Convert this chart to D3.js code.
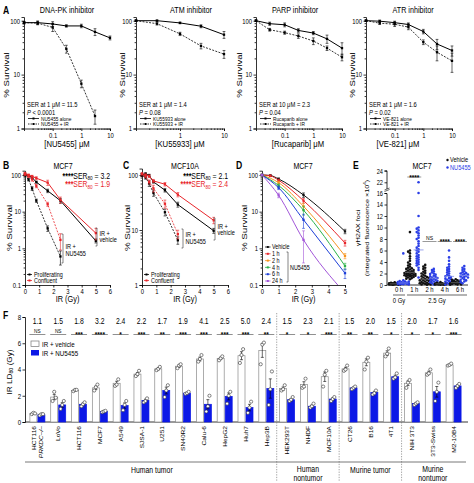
<!DOCTYPE html>
<html><head><meta charset="utf-8">
<script src="https://cdn.jsdelivr.net/npm/d3@7"></script>
<style>body{margin:0;background:#fff}svg{display:block}</style>
</head><body><script>
// ================= DATA =================
// Panel A
const aTitles = ["DNA-PK inhibitor","ATM inhibitor","PARP inhibitor","ATR inhibitor"];
const aDrugs = ["NU5455","KU55933","Rucaparib","VE-821"];
const aSER = ["SER at 1 μM = 11.5","SER at 1 μM = 1.4","SER at 10 μM = 2.3","SER at 1 μM = 1.6"];
const aP = ["< 0.0001","= 0.08","= 0.04","= 0.02"];
const dosesWide = [0.01,0.03,0.1,0.3,1,3,10];
const dosesATM = [0.1,0.3,1,3,10];
const dnapkAlone=[92,92,87,80,80,62,48], dnapkAloneErr=[5,7,9,4,6,9,4];
const dnapkIR=[92,90,75,30,6.8,1.7], dnapkIRErr=[4,6,12,5,1.1,0.5];
const atmAlone=[100,100,91,79,55], atmAloneErr=[3,3,3,5,8];
const atmIR=[100,88,57,34,24], atmIRErr=[3,5,4,4,4];
const parpAlone=[100,88,84,66,59,46,31], parpAloneErr=[3,6,7,5,4,8,8];
const parpIR=[100,68,60,52,42,31,21], parpIRErr=[3,4,4,5,6,3,3];
const atrAlone=[100,98,92,85,63,37,28], atrAloneErr=[3,5,6,6,6,8,6];
const atrIR=[100,90,86,76,40,26,18], atrIRErr=[3,5,8,8,4,8,7];
// Panels B, C
const bcDoses=[0,0.25,0.5,0.8,1.6,2.5,5];
const bProlVeh=[100,95,85,64,37,20,1.6], bProlVehErr=[6,5,5,4,4,3,0.2];
const bConfVeh=[110,100,92,82,62,21,2.6], bConfVehErr=[8,6,6,8,10,4,0.9];
const bProlNU=[100,75,43,20,3.5,0.6], bProlNUErr=[6,6,5,2,0.6,0.25];
const bConfNU=[105,92,76,50,16,1.7], bConfNUErr=[8,6,8,5,2,0.8];
const cProlVeh=[100,105,98,75,53,29,9.7], cProlVehErr=[6,5,5,4,4,3,1];
const cConfVeh=[100,100,95,78,68,44,15], cConfVehErr=[6,5,5,5,5,4,2];
const cProlNU=[100,90,70,47,21,6.5], cProlNUErr=[6,6,8,6,3,1];
const cConfNU=[105,95,75,57,30,8.4], cConfNUErr=[6,6,6,8,5,1.5];
// Panel D
const dDoses=[0,0.5,1,2.5,5];
const dLabels=["Vehicle","1 h","2 h","4 h","6 h","24 h"];
const dVals=[[100,97,78,28.5,2.9],[100,95,72,20,1.4],[100,null,62,14,0.62],[100,null,52,11,0.33],[100,null,45,6,0.21],[100,null,28,1.7,null]];
const dErr=[[4,4,5,4,0.4],[4,5,5,3,0.25],[4,0,5,3,0.1],[4,0,5,3,0.06],[4,0,5,2.5,0.06],[4,0,4,1.3,0]];
const dFit5=[2.9,1.4,0.62,0.33,0.21,0.06];
// Panel E
const eGroups=["0 h","1 h","2 h","4 h","6 h"];
const e0v=[0.05,0.1,0.1,0.15,0.2,0.2,0.25,0.3,0.3,0.35,0.4,0.05,0.1,0.15,0.2,0.25,0.1,0.3,0.45,0.2];
const e0n=[0.1,0.2,0.3,0.4,0.5,0.6,0.2,0.3,0.1,0.7,0.8,0.4,0.5,5.5,0.2,0.3,0.6,0.15];
const e1v=[9.2,6.0,5.8,5.5,5.0,4.6,4.2,3.9,3.6,3.4,3.2,3.0,2.9,2.8,2.7,2.6,2.5,2.4,2.3,2.2,2.2,2.1,2.0,2.0,1.9,1.9,1.8,1.8,1.7,1.7,1.6,1.6,1.5,1.5,1.4,1.3,1.2,1.1,1.0];
const e1n=[22,16,12,10,9.8,9.5,9.2,9.0,8.6,8.2,8.0,7.6,7.2,6.8,6.5,6.2,6.0,5.8,5.5,5.2,5.0,4.8,4.6,4.4,4.2,4.0,3.8,3.6,3.4,3.0,2.6,1.3];
const e2v=[3.5,3.2,3.0,2.8,2.5,2.3,2.1,2.0,1.8,1.6,1.5,1.4,1.3,1.2,1.1,1.0,1.0,0.9,0.8,0.8,0.7,0.6,0.5,0.5,0.4,0.3,0.3,0.2,0.2,0.1,0.1,0.05];
const e2n=[2.8,2.6,2.4,2.2,2.0,1.9,1.8,1.6,1.5,1.4,1.3,1.2,1.1,1.0,0.9,0.8,0.7,0.6,0.5,0.4,0.3,0.2,0.1];
const e4v=[0.5,0.4,0.3,0.25,0.2,0.2,0.15,0.1,0.1,0.05,0.05,0.1,0.15,0.2,0.3];
const e4n=[6.0,4.8,4.2,3.6,3.2,3.0,2.8,2.6,2.4,2.2,2.0,1.8,1.6,1.5,1.4,1.2,1.1,1.0,0.9,0.8,0.7,0.6,0.5,0.4,0.3,0.2,0.1];
const e6v=[1.0,0.9,0.8,0.7,0.6,0.5,0.5,0.4,0.4,0.3,0.3,0.3,0.2,0.2,0.1,0.1,0.05];
const e6n=[3.3,3.0,2.8,2.6,2.4,2.2,2.1,2.0,1.9,1.8,1.7,1.6,1.5,1.4,1.3,1.2,1.0,0.9,0.8,0.6,0.5,0.3];
const eYTicksLow=[0,2,4,6,8,10,12,14,16], eYTicksHigh=[22,24];
const eSig=[null,"****","NS","****","****"];
// Panel F
const fCells=["HCT116|PRKDC–/–","LoVo","HCT116","MCF7","A549","SJSA-1","U251","SN40R2","Calu-6","HepG2","Huh7","Hep3B","HEK293T","NHDF","MCF10A","CT26","B16","4T1","NIH 3T3","3T3-Swiss","M2-10B4"];
const fVeh=[0.65,1.9,2.4,2.6,2.95,3.65,4.05,4.25,4.8,4.85,5.05,5.45,2.55,2.85,3.45,4.05,4.55,5.25,2.95,3.75,4.35];
const fNU=[0.55,1.3,1.35,0.8,1.25,1.65,2.4,2.2,1.35,1.95,1.1,2.55,1.7,1.2,1.75,2.6,2.25,3.45,1.4,2.3,2.75];
const fVehReps=[[0.6,0.7,0.65],[1.6,2.3,1.85],[2.35,2.45,2.45],[2.4,2.65,2.85],[2.75,2.85,3.25],[3.5,3.65,3.9],[3.95,4.05,4.2],[4.1,4.3,4.4],[4.6,4.8,5.1],[4.7,4.85,5.0],[4.5,5.1,5.55],[4.4,5.9,6.05],[2.4,2.5,2.8],[2.6,2.7,3.3],[2.7,3.6,3.9],[3.9,4.0,4.3],[4.0,4.6,4.9],[5.0,5.2,5.6],[2.6,3.0,3.2],[3.6,3.7,4.0],[4.3,4.35,4.45]];
const fNUReps=[[0.5,0.6,0.6],[1.0,1.3,1.6],[1.2,1.35,1.5],[0.75,0.8,0.85],[0.9,1.3,1.6],[1.5,1.6,1.8],[1.9,2.4,2.8],[2.15,2.2,2.3],[0.8,1.2,2.0],[1.4,2.0,2.3],[0.7,1.1,1.55],[1.3,2.5,3.85],[1.6,1.7,1.9],[1.1,1.2,1.4],[1.6,1.75,1.9],[2.5,2.6,2.7],[2.1,2.2,2.4],[3.3,3.4,3.7],[1.3,1.4,1.5],[1.6,2.3,3.0],[2.6,2.75,2.9]];
const fRatio=["1.1","1.5","1.8","3.2","2.4","2.2","1.7","1.9","4.1","2.5","5.0","2.4","1.5","2.3","2.1","1.5","2.0","1.5","2.0","1.7","1.6"];
const fSig=["NS","NS","***","****","*","***","**","***","***","***","***","**","*","*","***","**","**","*","*","*","***"];
const fGroups=[{name:["Human tumor"],from:0,to:11},{name:["Human","nontumor"],from:12,to:14},{name:["Murine tumor"],from:15,to:17},{name:["Murine","nontumor"],from:18,to:20}];
const fYTicks=[0,2,4,6,8];

// ================= DRAWING =================
const FONT="'Liberation Sans', Arial, Helvetica, sans-serif";
const SX=0.82;
const RED="#e8262b", BLUE_E="#2a3ee6", BLUE_F="#0c18e6";
const svg=d3.select("body").append("svg").attr("width",474).attr("height",483).attr("font-family",FONT);

function T(x,y,s,size=7,anchor="start",fill="#000",o={}){
  const t=svg.append("text").attr("x",0).attr("y",0).attr("font-size",size).attr("text-anchor",anchor).attr("fill",fill).text(s)
    .attr("transform",`translate(${x},${y}) scale(${SX},1)`+(o.rot?` rotate(${o.rot})`:""));
  if(o.bold) t.attr("font-weight","bold");
  return t;
}
function axis(gen,tx,ty,fs=7.2){
  const g=svg.append("g").attr("transform",`translate(${tx},${ty})`).call(gen);
  g.attr("font-size",fs).attr("font-family",FONT);
  g.selectAll("path.domain").attr("stroke-width",0.8);
  g.selectAll(".tick line").attr("stroke-width",0.8);
  g.selectAll(".tick text").each(function(){const t=d3.select(this);const xx=+(t.attr("x")||0);t.attr("x",xx/SX).attr("transform",`scale(${SX},1)`);});
  return g;
}
const fmtD=d3.format("d");
function minors(d0,d1){
  const out=[];
  for(let e=Math.floor(Math.log10(d0));e<=Math.ceil(Math.log10(d1));e++)
    for(let m=2;m<10;m++){const v=m*Math.pow(10,e); if(v>d0*1.0001&&v<d1*0.9999) out.push(+v.toPrecision(3));}
  return out;
}
function logScale(v0,y0,v1,y1,vtop){
  const per=(y1-y0)/Math.log10(v1/v0);
  return d3.scaleLog().domain([v0,vtop]).range([y0,y0+per*Math.log10(vtop/v0)]);
}
function marker(x,y,col,s=2.3){
  svg.append("rect").attr("x",x-s/2).attr("y",y-s/2).attr("width",s).attr("height",s).attr("fill",col);
}
function errbar(x,y1,y2,col,w=1.4){
  const g=svg.append("g").attr("stroke",col).attr("stroke-width",0.6);
  g.append("line").attr("x1",x).attr("x2",x).attr("y1",y1).attr("y2",y2);
  g.append("line").attr("x1",x-w).attr("x2",x+w).attr("y1",y1).attr("y2",y1);
  g.append("line").attr("x1",x-w).attr("x2",x+w).attr("y1",y2).attr("y2",y2);
}
function series(x,y,doses,vals,errs,col,dash,lo){
  const pts=doses.map((d,i)=>({d,v:vals[i],e:errs?errs[i]:0})).filter(p=>p.v!=null);
  svg.append("path").datum(pts).attr("fill","none").attr("stroke",col).attr("stroke-width",dash?0.8:1)
    .attr("stroke-dasharray",dash?"2,1.3":null)
    .attr("d",d3.line().x(p=>x(p.d)).y(p=>y(p.v)));
  pts.forEach(p=>{
    if(p.e){ errbar(x(p.d),y(p.v+p.e),y(Math.max(lo,p.v-p.e)),col); }
    marker(x(p.d),y(p.v),col);
  });
}

// ---------- Panel A ----------
const aCfg=[
 {xr:[24,110],xd:[0.01,10],xt:[0.1,1,10],alone:[dosesWide,dnapkAlone,dnapkAloneErr],ir:[dosesWide.slice(0,6),dnapkIR,dnapkIRErr],yt:9,tc:67,xc:67},
 {xr:[136,224],xd:[0.1,10],xt:[1,10],alone:[dosesATM,atmAlone,atmAloneErr],ir:[dosesATM,atmIR,atmIRErr],yt:125,tc:191,xc:180},
 {xr:[256,342],xd:[0.01,10],xt:[0.1,1,10],alone:[dosesWide,parpAlone,parpAloneErr],ir:[dosesWide,parpIR,parpIRErr],yt:242,tc:295,xc:298},
 {xr:[366,452],xd:[0.01,10],xt:[0.1,1,10],alone:[dosesWide,atrAlone,atrAloneErr],ir:[dosesWide,atrIR,atrIRErr],yt:355,tc:413,xc:398}
];
const aY=logScale(1,128.5,100,20.7,117);
aCfg.forEach((c,i)=>{
  const x=d3.scaleLog().domain(c.xd).range(c.xr);
  axis(d3.axisBottom(x).tickValues(c.xt).tickFormat(d=>String(d)).tickSize(2.5).tickPadding(1.5),0,128.5);
  axis(d3.axisBottom(x).tickValues(minors(c.xd[0],c.xd[1])).tickFormat("").tickSize(1.4),0,128.5).select("path.domain").remove();
  axis(d3.axisLeft(aY).tickValues([1,10,100]).tickFormat(d=>String(d)).tickSize(2.5).tickPadding(1.5),c.xr[0],0);
  axis(d3.axisLeft(aY).tickValues(minors(1,117)).tickFormat("").tickSize(1.4),c.xr[0],0).select("path.domain").remove();
  T(c.tc,12.5,aTitles[i],8.8,"middle");
  T(c.xc,147,`[${aDrugs[i]}] μM`,9.4,"middle");
  T(c.yt,75,"% Survival",9.6,"middle","#000",{rot:-90});
  series(x,aY,c.alone[0],c.alone[1],c.alone[2],"#000",false,1);
  series(x,aY,c.ir[0],c.ir[1],c.ir[2],"#000",true,1);
  const x0=c.xr[0]+3;
  T(x0,107.3,aSER[i],7.1);
  const p=T(x0,114.8,"",7.1); p.append("tspan").attr("font-style","italic").text("P"); p.append("tspan").text(" "+aP[i]);
  [[118.5,false,`${aDrugs[i]} alone`],[124,true,`${aDrugs[i]} + IR`]].forEach(([ly,da,lab])=>{
    svg.append("line").attr("x1",x0+1).attr("x2",x0+12).attr("y1",ly).attr("y2",ly).attr("stroke","#000").attr("stroke-width",0.8).attr("stroke-dasharray",da?"1.5,1":null);
    marker(x0+6.5,ly,"#000",2);
    T(x0+14,ly+2,lab,5.8);
  });
});
T(3,13.5,"A",10.5,"start","#000",{bold:true});

// ---------- Panels B, C ----------
function drawBC(c){
  const x=d3.scaleLinear().domain([0,6]).range(c.xr);
  const y=logScale(c.yd0,285,100,175,131);
  axis(d3.axisBottom(x).tickValues([0,1,2,3,4,5,6]).tickFormat(fmtD).tickSize(2.5).tickPadding(1.5),0,285);
  axis(d3.axisLeft(y).tickValues(c.yt).tickFormat(d=>String(d)).tickSize(2.5).tickPadding(1.5),c.xr[0],0);
  axis(d3.axisLeft(y).tickValues(minors(c.yd0,131)).tickFormat("").tickSize(1.4),c.xr[0],0).select("path.domain").remove();
  series(x,y,bcDoses,c.pv[0],c.pv[1],"#000",false,c.yd0);
  series(x,y,bcDoses,c.cv[0],c.cv[1],RED,false,c.yd0);
  series(x,y,bcDoses.slice(0,6),c.pn[0],c.pn[1],"#000",true,c.yd0);
  series(x,y,bcDoses.slice(0,6),c.cn[0],c.cn[1],RED,true,c.yd0);
  T((c.xr[0]+c.xr[1])/2,302,"IR (Gy)",9,"middle");
  T(c.ytx,228,"% Survival",9.8,"middle","#000",{rot:-90});
  T(c.tc,168.5,c.title,8.6,"middle");
  T(c.lx,168.5,c.letter,10.5,"start","#000",{bold:true});
  c.ser.forEach((s,k)=>{
    const t=T(c.xr[1],178.5+k*8.5,"",8.4,"end",k?RED:"#000");
    t.append("tspan").attr("font-weight","bold").text(s[0]);
    t.append("tspan").text("SER");
    t.append("tspan").attr("font-size",5.6).attr("dy",1.8).text("80");
    t.append("tspan").attr("dy",-1.8).text(" = "+s[1]);
  });
  c.br.forEach(b=>{
    svg.append("path").attr("fill","none").attr("stroke","#333").attr("stroke-width",0.6)
      .attr("d",`M${b.x-1.5},${b.y1}H${b.x}V${b.y2}H${b.x-1.5}`);
    T(b.x+2.5,b.t1,"IR +",6.8); T(b.x+2.5,b.t1+6.5,b.lab,6.8);
  });
  [["Proliferating","#000",276.5],["Confluent",RED,282.5]].forEach(([lab,col,ly])=>{
    svg.append("line").attr("x1",c.xr[0]+2).attr("x2",c.xr[0]+7).attr("y1",ly-2).attr("y2",ly-2).attr("stroke",col).attr("stroke-width",0.8);
    marker(c.xr[0]+4.5,ly-2,col,2);
    T(c.xr[0]+9,ly,lab,6.6);
  });
}
drawBC({xr:[25,110],yd0:0.1,yt:[0.1,1,10,100],pv:[bProlVeh,bProlVehErr],cv:[bConfVeh,bConfVehErr],pn:[bProlNU,bProlNUErr],cn:[bConfNU,bConfNUErr],
  ytx:12,tc:63,title:"MCF7",lx:3,letter:"B",ser:[["****","3.2"],["***","1.9"]],
  br:[{x:97,y1:228,y2:246,t1:235.5,lab:"vehicle"},{x:63,y1:234,y2:263,t1:249,lab:"NU5455"}]});
drawBC({xr:[142,228],yd0:1,yt:[1,10,100],pv:[cProlVeh,cProlVehErr],cv:[cConfVeh,cConfVehErr],pn:[cProlNU,cProlNUErr],cn:[cConfNU,cConfNUErr],
  ytx:130,tc:185,title:"MCF10A",lx:123,letter:"C",ser:[["***","2.1"],["****","2.4"]],
  br:[{x:215,y1:218,y2:240,t1:228.5,lab:"vehicle"},{x:183,y1:229,y2:248,t1:237,lab:"NU5455"}]});

// ---------- Panel D ----------
(function(){
  const cols=["#111",RED,"#f7941d","#2bb24a","#1d3fd8","#a256d9"];
  const x=d3.scaleLinear().domain([0,5]).range([262,345]);
  const y=logScale(0.1,285,100,175,131);
  axis(d3.axisBottom(x).tickValues([0,1,2,3,4,5]).tickFormat(fmtD).tickSize(2.5).tickPadding(1.5),0,285);
  axis(d3.axisLeft(y).tickValues([0.1,1,10,100]).tickFormat(d=>String(d)).tickSize(2.5).tickPadding(1.5),262,0);
  axis(d3.axisLeft(y).tickValues(minors(0.1,131)).tickFormat("").tickSize(1.4),262,0).select("path.domain").remove();
  svg.append("clipPath").attr("id","dclip").append("rect").attr("x",262).attr("y",165).attr("width",90).attr("height",120);
  dVals.forEach((vals,i)=>{
    const pts=dDoses.map((d,k)=>({d,v:vals[k]})).filter(p=>p.v!=null);
    if(vals[4]==null) pts.push({d:5,v:dFit5[i]});
    svg.append("path").datum(pts).attr("clip-path","url(#dclip)").attr("fill","none").attr("stroke",cols[i]).attr("stroke-width",1)
      .attr("d",d3.line().x(p=>x(p.d)).y(p=>y(p.v)).curve(d3.curveMonotoneX));
  });
  dVals.forEach((vals,i)=>{
    dDoses.forEach((d,k)=>{
      const v=vals[k]; if(v==null) return;
      if(dErr[i][k]) errbar(x(d),y(v+dErr[i][k]),y(Math.max(0.1,v-dErr[i][k])),cols[i]);
      marker(x(d),y(v),cols[i]);
    });
  });
  T(303.5,302,"IR (Gy)",9,"middle");
  T(247,228,"% Survival",9.8,"middle","#000",{rot:-90});
  T(303,168.5,"MCF7",8.6,"middle");
  T(236,168.5,"D",10.5,"start","#000",{bold:true});
  dLabels.forEach((lab,i)=>{
    const ly=247+i*6.8;
    svg.append("line").attr("x1",265).attr("x2",270.5).attr("y1",ly).attr("y2",ly).attr("stroke",cols[i]).attr("stroke-width",0.8);
    marker(267.8,ly,cols[i],2);
    T(272,ly+2.2,lab,6.6);
  });
  svg.append("path").attr("fill","none").attr("stroke","#333").attr("stroke-width",0.6).attr("d","M286.5,252H288V282H286.5");
  T(290,269.5,"NU5455",6.6);
})();

// ---------- Panel E ----------
(function(){
  const yl=d3.scaleLinear().domain([0,16]).range([285,193]);
  const yu=d3.scaleLinear().domain([22,24]).range([182.3,170.8]);
  const ey=v=>v<=16?yl(v):yu(v);
  const gx=d3.scalePoint().domain(eGroups).range([399,460]);
  const ax1=axis(d3.axisLeft(yl).tickValues(eYTicksLow).tickFormat(fmtD).tickSize(2.5).tickPadding(1.5),387,0,6.9);
  const ax2=axis(d3.axisLeft(yu).tickValues(eYTicksHigh).tickFormat(fmtD).tickSize(2.5).tickPadding(1.5),387,0,6.9);
  ax1.select("path.domain").attr("d","M-2.5,193.5H0V285");
  ax2.select("path.domain").attr("d","M0,189V170.8H-2.5");
  svg.append("path").attr("fill","none").attr("stroke","#000").attr("stroke-width",0.6).attr("d","M384.5,191.5L389.5,189.5M384.5,190L389.5,188");
  svg.append("line").attr("x1",387).attr("x2",468).attr("y1",285).attr("y2",285).attr("stroke","#000").attr("stroke-width",0.8);
  const sets=[[e0v,e0n],[e1v,e1n],[e2v,e2n],[e4v,e4n],[e6v,e6n]];
  function swarm(vals,cx,r,maxW){
    const pts=vals.map(v=>({v,y:ey(v)})).sort((a,b)=>b.v-a.v);
    const placed=[], step=r*1.4;
    pts.forEach(p=>{
      let best=0,bestO=Infinity;
      for(let k=0;k<=2*Math.floor(maxW/step);k++){
        const off=(k%2===0?1:-1)*Math.ceil(k/2)*step;
        let ov=0;
        placed.forEach(q=>{const dx=q.x-(cx+off),dy=q.y-p.y,dd=Math.hypot(dx,dy);if(dd<2*r*0.8)ov+=2*r*0.8-dd;});
        if(ov===0){best=off;bestO=0;break;}
        if(ov<bestO){bestO=ov;best=off;}
      }
      p.x=cx+best; placed.push(p);
    });
    return placed;
  }
  sets.forEach((s,i)=>{
    const cx=gx(eGroups[i]);
    [[s[0],cx-4.3,"#111","#666"],[s[1],cx+4.3,BLUE_E,"#7f8de8"]].forEach(([vals,c,col,mc])=>{
      swarm(vals,c,1.3,5.5).forEach(p=>svg.append("circle").attr("cx",p.x).attr("cy",p.y).attr("r",1.3).attr("fill",col));
      const md=d3.median(vals);
      svg.append("line").attr("x1",c-5).attr("x2",c+5).attr("y1",ey(md)).attr("y2",ey(md)).attr("stroke",mc).attr("stroke-width",0.8);
    });
    T(cx,292,eGroups[i],7.2,"middle");
    if(eSig[i]){
      const ly=i===1?177:241.5;
      svg.append("line").attr("x1",cx-7).attr("x2",cx+7).attr("y1",ly).attr("y2",ly).attr("stroke","#555").attr("stroke-width",0.6);
      if(eSig[i]==="NS") T(cx,ly-1.3,"NS",6.2,"middle");
      else T(cx,ly+2.6,eSig[i],8,"middle","#000",{bold:true});
    }
  });
  svg.append("line").attr("x1",393).attr("x2",405).attr("y1",295).attr("y2",295).attr("stroke","#000").attr("stroke-width",0.6);
  svg.append("line").attr("x1",407).attr("x2",467).attr("y1",295).attr("y2",295).attr("stroke","#000").attr("stroke-width",0.6);
  T(399,302.5,"0 Gy",7.2,"middle"); T(437,302.5,"2.5 Gy",7.2,"middle");
  T(360,228,"γH2AX foci",7.4,"middle","#000",{rot:-90});
  const yt2=T(368.5,228,"(integrated fluorescence ×10",7.2,"middle","#000",{rot:-90});
  yt2.append("tspan").attr("font-size",4.8).attr("dy",-2.6).text("4");
  yt2.append("tspan").attr("dy",2.6).text(")");
  T(422,168.5,"MCF7",8.6,"middle");
  T(353,168.5,"E",10.5,"start","#000",{bold:true});
  svg.append("circle").attr("cx",447.5).attr("cy",160).attr("r",1.2).attr("fill","#111");
  T(450,162.3,"Vehicle",6.9);
  svg.append("circle").attr("cx",447.5).attr("cy",167.5).attr("r",1.2).attr("fill",BLUE_E);
  T(450,169.8,"NU5455",6.9,"start",BLUE_E);
})();

// ---------- Panel F ----------
(function(){
  const y=d3.scaleLinear().domain([0,8]).range([422,317]);
  const x=d3.scaleBand().domain(fCells).range([27,464]);
  const bw=x.bandwidth(), w=7;
  axis(d3.axisLeft(y).tickValues(fYTicks).tickFormat(fmtD).tickSize(2.5).tickPadding(1.5),25,0,7.4);
  svg.append("line").attr("x1",25).attr("x2",468).attr("y1",422).attr("y2",422).attr("stroke","#000").attr("stroke-width",0.8);
  [12,15,18].forEach(i=>{
    svg.append("line").attr("x1",x(fCells[i])).attr("x2",x(fCells[i])).attr("y1",313).attr("y2",481).attr("stroke","#666").attr("stroke-width",0.6).attr("stroke-dasharray","1.3,1.3");
  });
  fCells.forEach((c,i)=>{
    const cx=x(c)+bw/2;
    [[fVeh[i],fVehReps[i],cx-4,"#fff","#8a8a8a"],[fNU[i],fNUReps[i],cx+4,BLUE_F,BLUE_F]].forEach(([m,reps,bx,fill,stroke])=>{
      svg.append("rect").attr("x",bx-w/2).attr("y",y(m)).attr("width",w).attr("height",y(0)-y(m)).attr("fill",fill).attr("stroke",stroke).attr("stroke-width",0.7);
      const sem=d3.deviation(reps)/Math.sqrt(reps.length);
      errbar(bx,y(m+sem),y(m-sem),"#000",1.5);
      reps.forEach((v,k)=>svg.append("circle").attr("cx",bx+(k-1)*1.6).attr("cy",y(v)).attr("r",1.6).attr("fill","#fff").attr("stroke","#333").attr("stroke-width",0.6));
    });
    T(cx,324,fRatio[i],8.3,"middle");
    svg.append("line").attr("x1",cx-8).attr("x2",cx+8).attr("y1",334.5).attr("y2",334.5).attr("stroke","#444").attr("stroke-width",0.6);
    if(fSig[i]==="NS") T(cx,332.6,"NS",5.8,"middle");
    else T(cx,336.6,fSig[i],8,"middle","#000",{bold:true});
    const parts=c.split("|");
    if(parts.length===1){
      T(cx+2.2,426,c,6.6,"end","#000",{rot:-90});
    } else {
      T(cx-1.5,426,parts[0],6.6,"end","#000",{rot:-90});
      T(cx+5.5,426,parts[1],6.6,"end","#000",{rot:-90}).attr("font-style","italic");
    }
  });
  svg.append("line").attr("x1",25).attr("x2",466).attr("y1",462).attr("y2",462).attr("stroke","#555").attr("stroke-width",0.8);
  fGroups.forEach(g=>{
    const cx=(x(fCells[g.from])+x(fCells[g.to])+bw)/2;
    if(g.name.length===1) T(cx,472.5,g.name[0],8.4,"middle");
    else { T(cx,471.5,g.name[0],8.4,"middle"); T(cx,480.5,g.name[1],8.4,"middle"); }
  });
  svg.append("rect").attr("x",31).attr("y",341).attr("width",8).attr("height",5.5).attr("fill","#fff").attr("stroke","#777").attr("stroke-width",0.7);
  T(42,346.5,"IR + vehicle",7.6);
  svg.append("rect").attr("x",31).attr("y",350).attr("width",8).attr("height",5.5).attr("fill",BLUE_F);
  T(42,355.5,"IR + NU5455",7.6);
  const yt=T(12,372,"IR LD",8.2,"middle","#000",{rot:-90});
  yt.append("tspan").attr("font-size",5.4).attr("dy",1.8).text("80");
  yt.append("tspan").attr("dy",-1.8).text(" (Gy)");
  T(3,319,"F",10.5,"start","#000",{bold:true});
})();
</script></body></html>
